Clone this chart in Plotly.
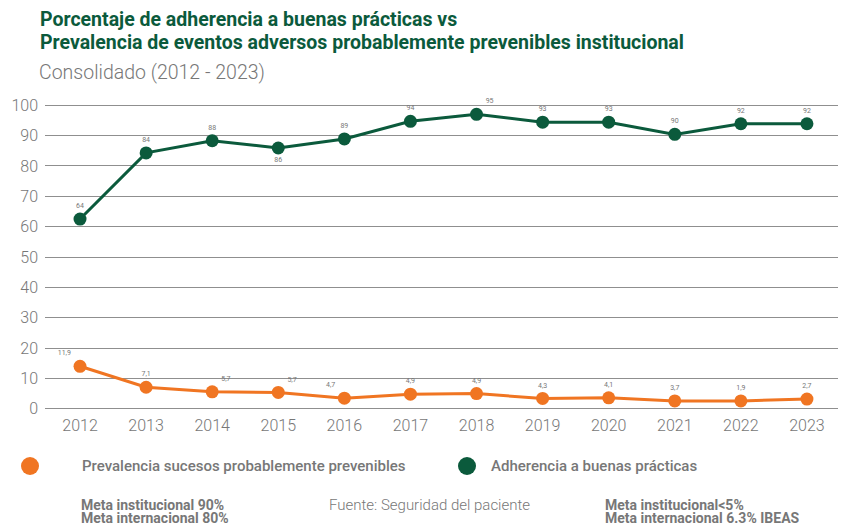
import plotly.graph_objects as go

# ---------------------------------------------------------------------------
# Data
# ---------------------------------------------------------------------------

years = [2012, 2013, 2014, 2015, 2016, 2017, 2018, 2019, 2020, 2021, 2022, 2023]

adherencia = [62.5, 84.3, 88.3, 85.9, 88.9, 94.7, 97.0, 94.4, 94.4, 90.4, 93.9, 93.9]
adherencia_labels = ["64", "84", "88", "86", "89", "94", "95", "93", "93", "90", "92", "92"]

prevalencia = [14.0, 7.1, 5.6, 5.4, 3.5, 4.8, 5.0, 3.4, 3.6, 2.6, 2.6, 3.2]
prevalencia_labels = ["11,9", "7,1", "5,7", "5,7", "4,7", "4,9", "4,9", "4,3", "4,1", "3,7", "1,9", "2,7"]

y_ticks = [0, 10, 20, 30, 40, 50, 60, 70, 80, 90, 100]

GREEN = "#0b5a3c"
ORANGE = "#f07522"
GREY = "#777777"
FONT = "Roboto"

W, H = 848, 525
# plot area in page pixels
PL, PR, PT, PB = 45, 838, 104, 410


def px(x):
    return (x - PL) / (PR - PL)


def py(y):
    return (PB - y) / (PB - PT)


# label placement per point
adh_pos = ["top center", "top center", "top center", "bottom center", "top center", "top center",
           "top right", "top center", "top center", "top center", "top center", "top center"]
prev_pos = ["top left", "top center", "top right", "top right", "top left", "top center",
            "top center", "top center", "top center", "top center", "top center", "top center"]

fig = go.Figure()

fig.add_trace(
    go.Scatter(
        x=years,
        y=adherencia,
        mode="lines+markers+text",
        line=dict(color=GREEN, width=3),
        marker=dict(color=GREEN, size=13),
        text=adherencia_labels,
        textposition=adh_pos,
        textfont=dict(family=FONT, size=7, color=GREY),
        cliponaxis=False,
        name="Adherencia a buenas prácticas",
        showlegend=False,
    )
)
fig.add_trace(
    go.Scatter(
        x=years,
        y=prevalencia,
        mode="lines+markers+text",
        line=dict(color=ORANGE, width=3),
        marker=dict(color=ORANGE, size=13),
        text=prevalencia_labels,
        textposition=prev_pos,
        textfont=dict(family=FONT, size=7, color=GREY),
        cliponaxis=False,
        name="Prevalencia sucesos probablemente prevenibles",
        showlegend=False,
    )
)

fig.update_layout(
    width=W,
    height=H,
    margin=dict(l=PL, r=W - PR, t=PT, b=H - PB),
    plot_bgcolor="white",
    paper_bgcolor="white",
    font=dict(family=FONT, color=GREY),
)

fig.update_xaxes(
    range=[2011.47, 2023.47],
    tickvals=years,
    ticktext=[str(y) for y in years],
    tickfont=dict(size=16, color=GREY, weight=300),
    showgrid=False,
    zeroline=False,
    showline=False,
    ticks="",
    ticklabelstandoff=4,
)
fig.update_yaxes(
    range=[-0.4, 100.4],
    tickvals=y_ticks,
    tickfont=dict(size=16, color=GREY, weight=300),
    showgrid=True,
    gridcolor="#8f8f8f",
    gridwidth=1,
    zeroline=False,
    showline=False,
    ticks="",
    ticklabelstandoff=6,
)


def note(text, x, y, size, color, weight=400, anchor="middle"):
    fig.add_annotation(
        text=text, x=px(x), y=py(y), xref="paper", yref="paper",
        xanchor="left", yanchor=anchor, showarrow=False, align="left",
        font=dict(family=FONT, size=size, color=color, weight=weight),
    )


# title block
note("<b>Porcentaje de adherencia a buenas prácticas vs</b>", 38, 19, 19.5, GREEN)
note("<b>Prevalencia de eventos adversos probablemente prevenibles institucional</b>", 38, 42, 19.5, GREEN)
note("Consolidado (2012 - 2023)", 37, 73, 19.5, GREY, weight=300)

# custom legend (circles + labels)
legend_items = [
    (30, ORANGE, 80, "Prevalencia sucesos probablemente prevenibles"),
    (467, GREEN, 489, "Adherencia a buenas prácticas"),
]
for cx, col, tx, label in legend_items:
    fig.add_shape(
        type="circle", xref="paper", yref="paper",
        x0=px(cx - 9), x1=px(cx + 9),
        y0=py(466 + 9), y1=py(466 - 9),
        fillcolor=col, line=dict(width=0),
    )
    note(label, tx, 466, 15, GREY, weight=500)

# footer notes
note("<b>Meta institucional 90%</b>", 79, 505, 14, GREY)
note("<b>Meta internacional 80%</b>", 79, 518, 14, GREY)
note("Fuente: Seguridad del paciente", 327, 505, 15, GREY, weight=300)
note("<b>Meta institucional<5%</b>", 603, 505, 14, GREY)
note("<b>Meta internacional 6.3% IBEAS</b>", 603, 518, 14, GREY)

# drop the default page margin so the figure sits at the window origin
fig.write_html(
    "out.html",
    config={"displayModeBar": False},
    post_script="document.body.style.margin='0';document.body.style.overflow='hidden';",
)
